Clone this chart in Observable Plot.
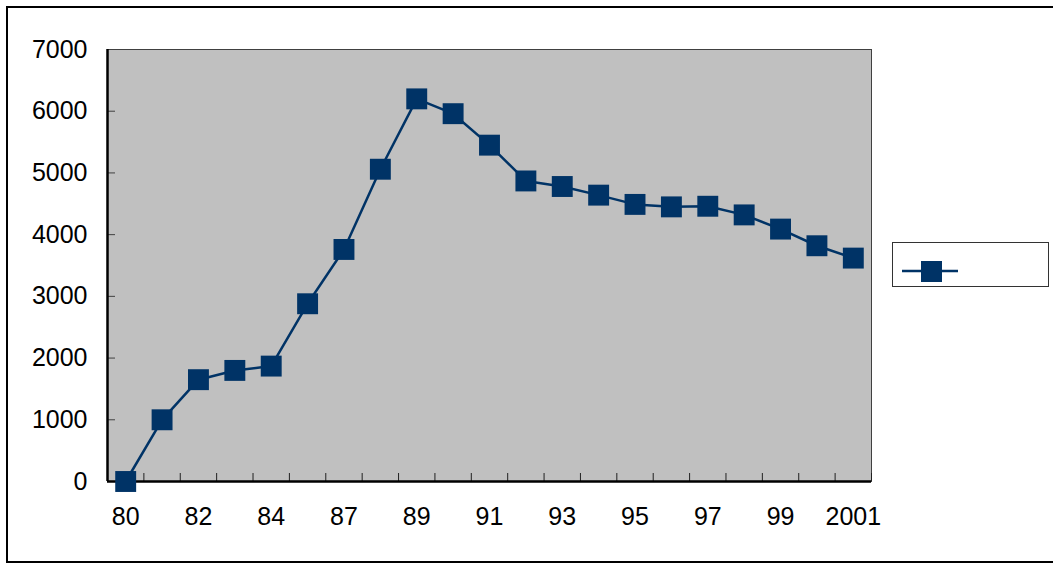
<!DOCTYPE html>
<html>
<head>
<meta charset="utf-8">
<script src="https://cdn.jsdelivr.net/npm/d3@7"></script>
<script src="https://cdn.jsdelivr.net/npm/@observablehq/plot@0.6"></script>
<style>
  html, body { margin: 0; padding: 0; background: #fff; }
  #wrap { position: relative; width: 1053px; height: 565px; overflow: hidden; }
  #frame { position: absolute; left: 6px; top: 6px; width: 1100px; height: 557px; border: 2px solid #000; box-sizing: border-box; pointer-events: none; }
  #legend { position: absolute; left: 892px; top: 242px; width: 157px; height: 45px; border: 1.5px solid #333; box-sizing: border-box; background: #fff; }
  #legend svg { position: absolute; left: 0; top: 0; }
</style>
</head>
<body>
<div id="wrap">
  <div id="chart"></div>
  <div id="frame"></div>
  <div id="legend"><svg width="155" height="43"><line x1="9" x2="65" y1="28" y2="28" stroke="#003366" stroke-width="2.5"/><rect x="28" y="18" width="21" height="21" fill="#003366"/></svg></div>
</div>
<script>
const years = ["80","81","82","83","84","86","87","88","89","90","91","92","93","94","95","96","97","98","99","2000","2001"];
const values = [0, 1000, 1650, 1800, 1870, 2880, 3760, 5060, 6200, 5960, 5450, 4870, 4780, 4640, 4490, 4450, 4460, 4320, 4090, 3820, 3620];
const yTicks = [0, 1000, 2000, 3000, 4000, 5000, 6000, 7000];

const data = years.map((year, i) => ({i, year, value: values[i]}));
const labelIdx = d3.range(0, years.length, 2);
const boundaries = d3.range(years.length + 1).map(i => i - 0.5);

const color = "#003366";
const chart = Plot.plot({
  width: 1053,
  height: 565,
  marginLeft: 107,
  marginRight: 182,
  marginTop: 49,
  marginBottom: 84,
  style: {fontFamily: "Arial, 'Liberation Sans', sans-serif", fontSize: "25px", background: "transparent", color: "#000"},
  x: {type: "linear", domain: [-0.5, years.length - 0.5]},
  y: {domain: [0, 7000]},
  marks: [
    Plot.frame({fill: "#c0c0c0", stroke: "#404040", strokeWidth: 1}),
    Plot.axisY(yTicks, {tickSize: 0, tickPadding: 20, tickFormat: d => String(d), label: null, fill: "#000"}),
    Plot.axisY(yTicks, {tickSize: 8, dx: 8, text: null, label: null, stroke: "#404040"}),
    Plot.axisX(labelIdx, {tickSize: 0, tickPadding: 26, tickFormat: i => years[i], label: null, fill: "#000"}),
    Plot.axisX(boundaries, {tickSize: 8, dy: -8, text: null, label: null, stroke: "#202020"}),
    Plot.ruleY([0], {stroke: "#000", strokeWidth: 2.5}),
    Plot.ruleX([-0.5], {stroke: "#000", strokeWidth: 2.5}),
    Plot.line(data, {x: "i", y: "value", stroke: color, strokeWidth: 2.5}),
    Plot.dot(data, {x: "i", y: "value", symbol: "square", r: 11.8, fill: color, stroke: null})
  ]
});
document.getElementById("chart").append(chart);
</script>
</body>
</html>
